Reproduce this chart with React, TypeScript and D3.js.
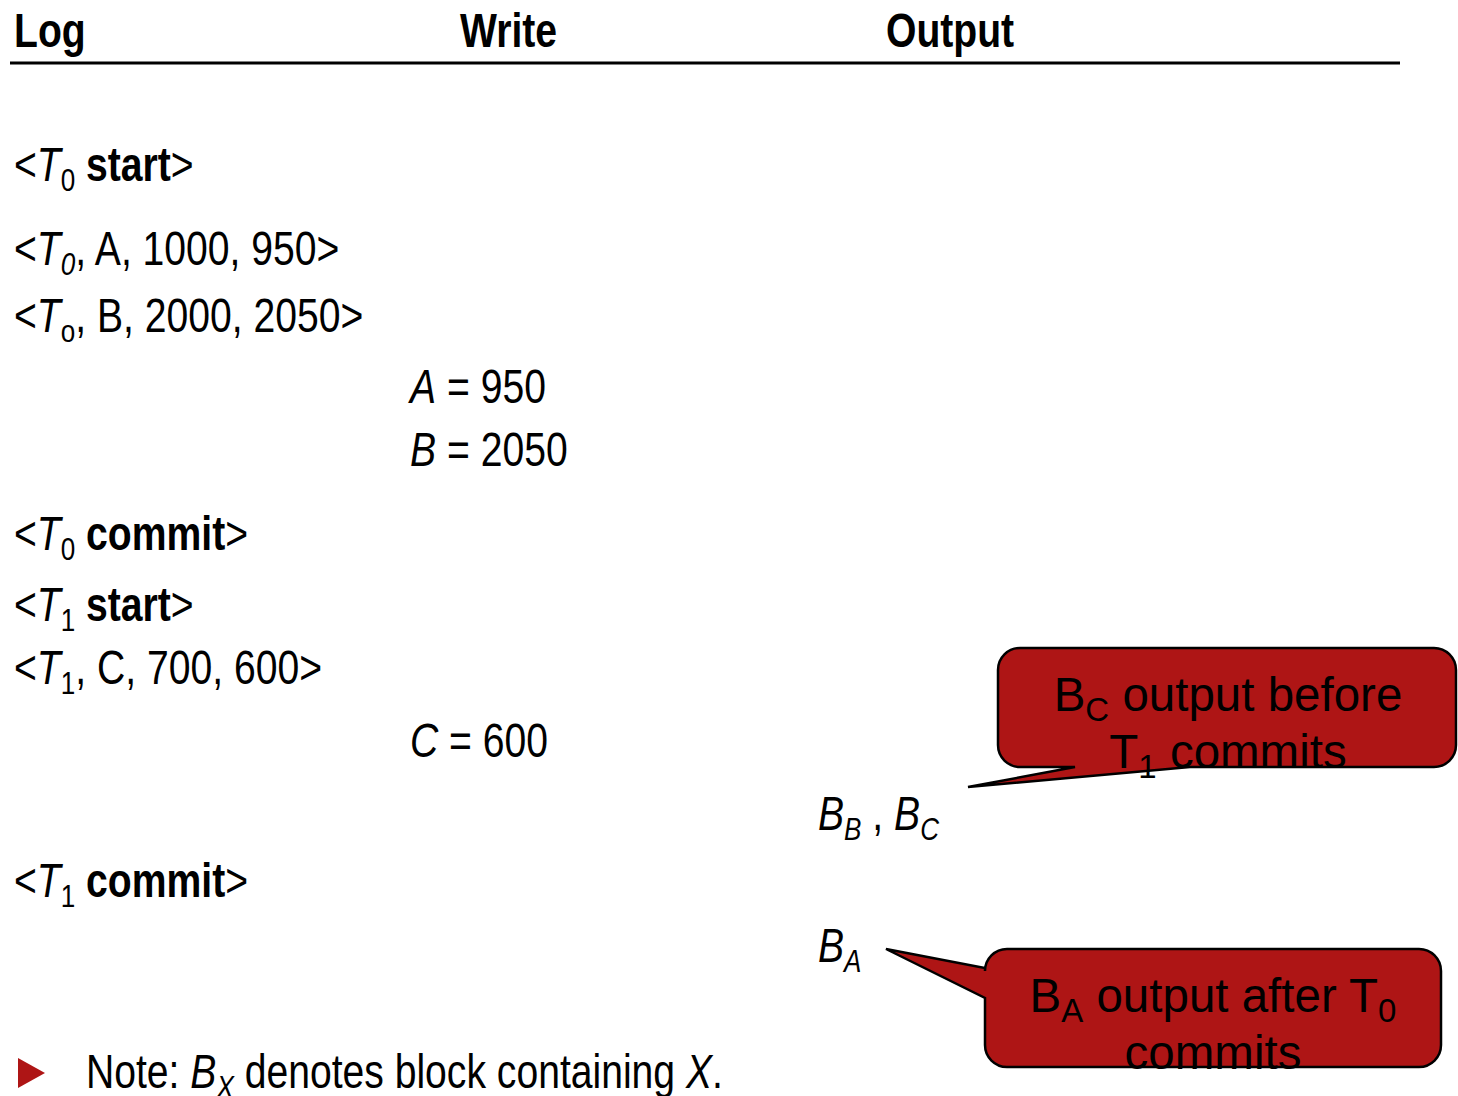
import { useEffect, useRef } from "react";
import * as d3 from "d3";

type Seg = { t: string; i?: boolean; b?: boolean; sub?: boolean };
type Col = "Log" | "Write" | "Output";

const columns: Col[] = ["Log", "Write", "Output"];

// events in the order they happen, one per row
const events: { col: Col; segs: Seg[] }[] = [
  { col: "Log", segs: [{ t: "<" }, { t: "T", i: true }, { t: "0", sub: true }, { t: " " }, { t: "start", b: true }, { t: ">" }] },
  { col: "Log", segs: [{ t: "<" }, { t: "T", i: true }, { t: "0", sub: true, i: true }, { t: ", A, 1000, 950>" }] },
  { col: "Log", segs: [{ t: "<" }, { t: "T", i: true }, { t: "o", sub: true }, { t: ", B, 2000, 2050>" }] },
  { col: "Write", segs: [{ t: "A", i: true }, { t: " = 950" }] },
  { col: "Write", segs: [{ t: "B", i: true }, { t: " = 2050" }] },
  { col: "Log", segs: [{ t: "<" }, { t: "T", i: true }, { t: "0", sub: true }, { t: " " }, { t: "commit", b: true }, { t: ">" }] },
  { col: "Log", segs: [{ t: "<" }, { t: "T", i: true }, { t: "1", sub: true }, { t: " " }, { t: "start", b: true }, { t: ">" }] },
  { col: "Log", segs: [{ t: "<" }, { t: "T", i: true }, { t: "1", sub: true }, { t: ", C, 700, 600>" }] },
  { col: "Write", segs: [{ t: "C", i: true }, { t: " = 600" }] },
  { col: "Output", segs: [{ t: "B", i: true }, { t: "B", sub: true, i: true }, { t: " , " }, { t: "B", i: true }, { t: "C", sub: true, i: true }] },
  { col: "Log", segs: [{ t: "<" }, { t: "T", i: true }, { t: "1", sub: true }, { t: " " }, { t: "commit", b: true }, { t: ">" }] },
  { col: "Output", segs: [{ t: "B", i: true }, { t: "A", sub: true, i: true }] },
];

const callouts: { lines: Seg[][] }[] = [
  { lines: [[{ t: "B" }, { t: "C", sub: true }, { t: " output before" }], [{ t: "T" }, { t: "1", sub: true }, { t: " commits" }]] },
  { lines: [[{ t: "B" }, { t: "A", sub: true }, { t: " output after T" }, { t: "0", sub: true }], [{ t: "commits" }]] },
];

const note: Seg[] = [
  { t: "Note: " }, { t: "B", i: true }, { t: "X", sub: true, i: true },
  { t: " denotes block containing " }, { t: "X", i: true }, { t: "." },
];

// layout
const W = 1458;
const H = 1096;
const rowY = [181, 265, 332, 403, 466, 550, 621, 684, 757, 830, 897, 962];
const RED = "#ae1515";
const NARROW = 0.815;

function rich(
  text: d3.Selection<SVGTextElement, unknown, null, undefined>,
  segs: Seg[],
  subSize: number,
  shift: number
) {
  let down = false;
  segs.forEach((s) => {
    const ts = text
      .append("tspan")
      .text(s.t)
      .attr("font-style", s.i ? "italic" : "normal")
      .attr("font-weight", s.b ? "bold" : "normal");
    if (s.sub) {
      ts.attr("font-size", subSize);
      if (!down) {
        ts.attr("dy", shift);
        down = true;
      }
    } else if (down) {
      ts.attr("dy", -shift);
      down = false;
    }
  });
}

export default function App() {
  const ref = useRef<SVGSVGElement | null>(null);

  useEffect(() => {
    document.body.style.margin = "0";
    if (!ref.current) return;
    const svg = d3.select(ref.current);
    svg.selectAll("*").remove();

    const headerX = d3.scaleOrdinal<Col, number>().domain(columns).range([14, 460, 886]);
    const entryX = d3.scaleOrdinal<Col, number>().domain(columns).range([14, 410, 818]);
    const y = (i: number) => rowY[i];

    const narrowText = (x: number, yy: number, size: number) =>
      svg
        .append("g")
        .attr("transform", `translate(${x},${yy}) scale(${NARROW},1)`)
        .append("text")
        .attr("font-family", "'Liberation Sans', Arial, sans-serif")
        .attr("font-size", size)
        .attr("fill", "#000")
        .style("white-space", "pre");

    // headers
    columns.forEach((c) => {
      narrowText(headerX(c), 47, 48).attr("font-weight", "bold").text(c);
    });
    svg
      .append("line")
      .attr("x1", 10)
      .attr("x2", 1400)
      .attr("y1", 63)
      .attr("y2", 63)
      .attr("stroke", "#000")
      .attr("stroke-width", 3);

    // rows
    events.forEach((e, i) => {
      const t = narrowText(entryX(e.col), y(i), 48);
      rich(t, e.segs, 32, 10);
    });

    // callouts
    const boxes = [
      { x0: 998, x1: 1456, y0: 648, y1: 767, target: 9 },
      { x0: 985, x1: 1441, y0: 949, y1: 1067, target: 11 },
    ];
    const r = 22;
    boxes.forEach((bx, k) => {
      const { x0, x1, y0, y1 } = bx;
      const p = d3.path();
      if (k === 0) {
        const tip: [number, number] = [968, y(bx.target) - 43];
        p.moveTo(x0 + r, y0);
        p.lineTo(x1 - r, y0);
        p.arcTo(x1, y0, x1, y0 + r, r);
        p.lineTo(x1, y1 - r);
        p.arcTo(x1, y1, x1 - r, y1, r);
        p.lineTo(1190, y1);
        p.lineTo(tip[0], tip[1]);
        p.lineTo(1075, y1);
        p.lineTo(x0 + r, y1);
        p.arcTo(x0, y1, x0, y1 - r, r);
        p.lineTo(x0, y0 + r);
        p.arcTo(x0, y0, x0 + r, y0, r);
      } else {
        const tip: [number, number] = [886, y(bx.target) - 13];
        p.moveTo(x0 + r, y0);
        p.lineTo(x1 - r, y0);
        p.arcTo(x1, y0, x1, y0 + r, r);
        p.lineTo(x1, y1 - r);
        p.arcTo(x1, y1, x1 - r, y1, r);
        p.lineTo(x0 + r, y1);
        p.arcTo(x0, y1, x0, y1 - r, r);
        p.lineTo(x0, 998);
        p.lineTo(tip[0], tip[1]);
        p.lineTo(x0, 968);
        p.lineTo(x0, y0 + r);
        p.arcTo(x0, y0, x0 + r, y0, r);
      }
      p.closePath();
      svg
        .append("path")
        .attr("d", p.toString())
        .attr("fill", RED)
        .attr("stroke", "#000")
        .attr("stroke-width", 2.5)
        .attr("stroke-linejoin", "miter");

      const cx = k === 0 ? 1228 : 1213;
      const base = k === 0 ? 711 : 1012;
      callouts[k].lines.forEach((line, li) => {
        const t = svg
          .append("text")
          .attr("x", cx)
          .attr("y", base + li * 57)
          .attr("text-anchor", "middle")
          .attr("font-family", "'Liberation Sans', Arial, sans-serif")
          .attr("font-size", 47.5)
          .attr("fill", "#000")
          .style("white-space", "pre");
        rich(t, line, 33, 10);
      });
    });

    // note with bullet
    svg
      .append("path")
      .attr("d", "M18,1058 L45,1073 L18,1088 Z")
      .attr("fill", RED);
    const nt = narrowText(86, 1088, 48);
    rich(nt, note, 32, 10);
  }, []);

  return (
    <svg
      ref={ref}
      width={W}
      height={H}
      viewBox={`0 0 ${W} ${H}`}
      style={{ position: "absolute", left: 0, top: 0, background: "#fff" }}
    />
  );
}
